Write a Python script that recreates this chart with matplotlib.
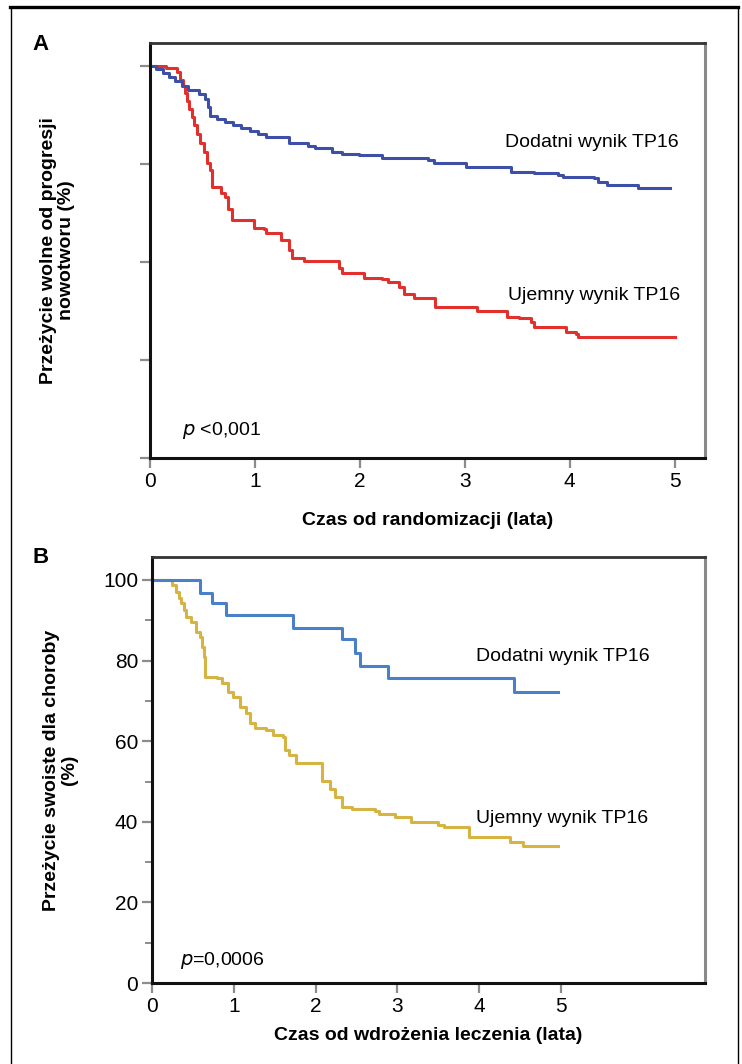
import numpy as np
import matplotlib
matplotlib.use('Agg')
import matplotlib.pyplot as plt
from matplotlib.lines import Line2D

# Fuente sans parecida a la del original
plt.rcParams['font.family'] = ['Liberation Sans Narrow', 'Liberation Sans', 'DejaVu Sans']

# Panel A: supervivencia libre de progresion
a_pos_t = [0, 0.06, 0.12, 0.18, 0.24, 0.30, 0.36, 0.47, 0.52, 0.55, 0.57, 0.64, 0.71, 0.79, 0.87,
           0.95, 1.03, 1.11, 1.32, 1.51, 1.57, 1.73, 1.83, 1.99, 2.21, 2.65, 2.71, 3.01, 3.44, 3.66,
           3.89, 3.94, 4.23, 4.27, 4.36, 4.65, 4.96]
a_pos_v = [100, 99.2, 98.3, 97.3, 96.2, 95.0, 94.0, 93.0, 91.5, 89.5, 87.2, 86.4, 85.7, 85.0, 84.2,
           83.5, 82.7, 81.9, 80.4, 79.6, 79.1, 78.1, 77.7, 77.3, 76.5, 76.0, 75.3, 74.2, 73.0, 72.7,
           72.2, 71.7, 71.4, 70.4, 69.6, 68.9, 68.9]

a_neg_t = [0, 0.15, 0.26, 0.29, 0.31, 0.33, 0.35, 0.37, 0.40, 0.42, 0.45, 0.48, 0.51, 0.54, 0.57,
           0.59, 0.68, 0.71, 0.74, 0.78, 0.99, 1.09, 1.11, 1.25, 1.32, 1.35, 1.47, 1.80, 1.83, 2.04,
           2.21, 2.27, 2.37, 2.42, 2.52, 2.72, 3.12, 3.40, 3.52, 3.63, 3.66, 3.96, 4.06, 4.08, 5.0]
a_neg_v = [100, 99.4, 98.5, 96.5, 94.8, 93.1, 91.0, 89.0, 87.0, 85.0, 82.7, 80.4, 78.0, 75.3, 73.5,
           69.1, 67.6, 66.6, 63.5, 60.7, 58.7, 58.4, 57.4, 55.6, 53.1, 51.0, 50.3, 48.5, 47.2, 45.9,
           45.7, 44.9, 43.6, 41.8, 40.8, 38.5, 37.5, 36.0, 35.7, 34.7, 33.4, 32.1, 31.6, 30.9, 30.9]

# Panel B: supervivencia especifica
b_pos_t = [0, 0.59, 0.73, 0.90, 1.72, 2.32, 2.48, 2.54, 2.89, 4.42, 4.96]
b_pos_v = [100, 96.8, 94.3, 91.3, 88.1, 85.4, 81.9, 78.7, 75.7, 72.2, 72.2]

b_neg_t = [0, 0.24, 0.29, 0.33, 0.36, 0.39, 0.42, 0.48, 0.54, 0.59, 0.61, 0.63, 0.65, 0.79, 0.85,
           0.93, 0.99, 1.08, 1.15, 1.20, 1.26, 1.39, 1.48, 1.60, 1.62, 1.68, 1.76, 2.08, 2.17, 2.24,
           2.32, 2.45, 2.72, 2.77, 2.97, 3.17, 3.50, 3.57, 3.87, 4.38, 4.54, 4.96]
b_neg_v = [100, 98.8, 97.0, 95.6, 94.3, 92.5, 90.8, 89.6, 87.1, 85.9, 83.4, 80.9, 75.9, 75.7, 74.4,
           72.2, 71.0, 68.5, 67.0, 64.5, 63.3, 62.8, 61.5, 61.0, 57.8, 56.6, 54.6, 50.1, 48.1, 46.2,
           43.7, 43.2, 42.7, 41.9, 41.2, 40.0, 39.2, 38.7, 36.2, 35.0, 34.0, 34.0]

x_ticks = [0, 1, 2, 3, 4, 5]
a_yticks = [0, 25, 50, 75, 100]
b_yticks = [0, 20, 40, 60, 80, 100]
b_yminor = [10, 30, 50, 70, 90]

BLUE_A = "#3d4fa6"
RED_A = "#e2312d"
BLUE_B = "#4a80c8"
YELLOW_B = "#d6b443"
TICK = "#8c8c8c"


def style_axes(ax):
    ax.spines['left'].set_color('#111111')
    ax.spines['left'].set_linewidth(2.2)
    ax.spines['bottom'].set_color('#111111')
    ax.spines['bottom'].set_linewidth(2.2)
    ax.spines['top'].set_color('#333333')
    ax.spines['top'].set_linewidth(2.0)
    ax.spines['right'].set_color('#8a8a8a')
    ax.spines['right'].set_linewidth(2.2)
    ax.tick_params(axis='both', which='major', direction='out', length=7, width=1.6,
                   color=TICK, labelsize=15, pad=3)
    ax.tick_params(axis='both', which='minor', direction='out', length=5, width=1.4, color=TICK)


fig = plt.figure(figsize=(7.42, 10.64), dpi=100)
fig.patch.set_facecolor('white')

# Marco exterior
fig.add_artist(Line2D([0.0135, 0.9946], [0.9934, 0.9934], color='black', lw=2.4))
fig.add_artist(Line2D([0.0148, 0.0148], [0.0, 0.9934], color='black', lw=1.0))
fig.add_artist(Line2D([0.9946, 0.9946], [0.0, 0.9934], color='black', lw=1.0))

# Panel A
ax = fig.add_axes([0.2022, 0.5695, 0.7480, 0.3901])
ax.step(a_neg_t, a_neg_v, where='post', color=RED_A, lw=2.2)
ax.step(a_pos_t, a_pos_v, where='post', color=BLUE_A, lw=2.2)
ax.set_xlim(0, 5.29)
ax.set_ylim(0, 105.9)
ax.set_xticks(x_ticks)
ax.set_yticks(a_yticks)
ax.set_yticklabels([])
style_axes(ax)
ax.set_xlabel("Czas od randomizacji (lata)", fontsize=14, fontweight='bold', labelpad=15)
ax.set_ylabel("Przeżycie wolne od progresji\nnowotworu (%)", fontsize=14, fontweight='bold',
              labelpad=44, linespacing=1.05)
ax.text(3.38, 80.4, "Dodatni wynik TP16", fontsize=14, va='center', ha='left')
ax.text(3.41, 41.6, "Ujemny wynik TP16", fontsize=14, va='center', ha='left')
ax.text(0.30, 7.1, r"$\it{p}$ <0,001", fontsize=14, va='center', ha='left')
fig.text(0.054, 0.958, "A", fontsize=16, fontweight='bold', ha='center', va='center')

# Panel B
ax = fig.add_axes([0.2049, 0.0761, 0.7453, 0.4004])
ax.step(b_neg_t, b_neg_v, where='post', color=YELLOW_B, lw=2.2)
ax.step(b_pos_t, b_pos_v, where='post', color=BLUE_B, lw=2.2)
ax.set_xlim(0, 6.76)
ax.set_ylim(0, 105.7)
ax.set_xticks(x_ticks)
ax.set_yticks(b_yticks)
ax.set_yticks(b_yminor, minor=True)
style_axes(ax)
ax.set_xlabel("Czas od wdrożenia leczenia (lata)", fontsize=14, fontweight='bold', labelpad=8)
ax.set_ylabel("Przeżycie swoiste dla choroby\n(%)", fontsize=14, fontweight='bold',
              labelpad=18, linespacing=1.05)
ax.text(3.96, 80.9, "Dodatni wynik TP16", fontsize=14, va='center', ha='left')
ax.text(3.96, 40.9, "Ujemny wynik TP16", fontsize=14, va='center', ha='left')
ax.text(0.34, 5.6, r"$\it{p}$=0,0006", fontsize=14, va='center', ha='left')
fig.text(0.054, 0.476, "B", fontsize=16, fontweight='bold', ha='center', va='center')

fig.savefig('out.png', dpi=100)
